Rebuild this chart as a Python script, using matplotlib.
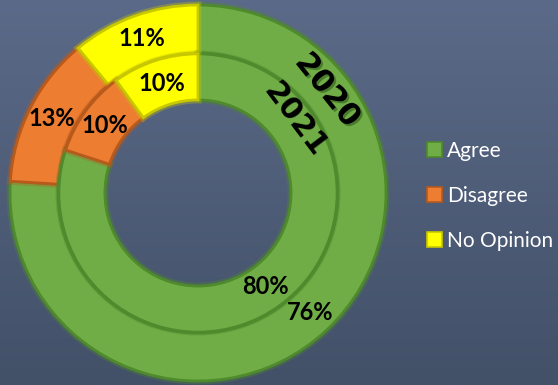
import numpy as np
import matplotlib
matplotlib.use("Agg")
import matplotlib.pyplot as plt
import matplotlib.patheffects as pe

categories = ["Agree", "Disagree", "No Opinion"]
values_2020 = [76, 13, 11]
values_2021 = [80, 10, 10]
ring_labels = ["2020", "2021"]
colors = ["#70ad47", "#ed7d31", "#ffff00"]
edge_colors = ["#4f8a2c", "#b85a1c", "#c8c800"]

W, H = 558, 385
fig = plt.figure(figsize=(W / 100, H / 100), dpi=100)

# background gradient
bg = fig.add_axes([0, 0, 1, 1])
grad = np.linspace(0, 1, 256).reshape(-1, 1)
top = np.array([91, 106, 136]) / 255
bot = np.array([66, 80, 104]) / 255
img = top[None, None, :] * (1 - grad[..., None]) + bot[None, None, :] * grad[..., None]
bg.imshow(img, aspect="auto", extent=[0, 1, 0, 1])
bg.axis("off")

# pie axes
cx, cy, R = 198, 193, 188
half = 191
ax = fig.add_axes([(cx - half) / W, (H - cy - half) / H, 2 * half / W, 2 * half / H])

font = ["Lato", "DejaVu Sans"]

outer_w = 0.255
inner_r = 1 - outer_w - 0.005
inner_w = 0.245

w1, _, t1 = ax.pie(values_2020, radius=1.0, colors=colors, startangle=90, counterclock=False,
                   autopct="%d%%", pctdistance=0.875,
                   wedgeprops=dict(width=outer_w, linewidth=2.0),
                   textprops=dict(fontsize=17, fontweight="bold", color="black", family=font))
w2, _, t2 = ax.pie(values_2021, radius=inner_r, colors=colors, startangle=90, counterclock=False,
                   autopct="%d%%", pctdistance=0.83,
                   wedgeprops=dict(width=inner_w, linewidth=2.0),
                   textprops=dict(fontsize=17, fontweight="bold", color="black", family=font))
for wl in (w1, w2):
    for w, ec in zip(wl, edge_colors):
        w.set_edgecolor(ec)
        w.set_path_effects([pe.Stroke(linewidth=5, foreground=ec, alpha=0.35), pe.Normal()])

ax.set_xlim(-half / R, half / R)
ax.set_ylim(-half / R, half / R)
ax.set_aspect("equal")
ax.axis("off")


def polar(r, clock_deg):
    a = np.deg2rad(90 - clock_deg)
    return r * np.cos(a), r * np.sin(a)


x, y = polar(0.88, 51.5)
ax.text(x, y, ring_labels[0], rotation=-51.5, ha="center", va="center", fontsize=22,
        fontweight="bold", color="black", family=["DejaVu Sans"],
        path_effects=[pe.withSimplePatchShadow(offset=(1.5, -1.5), shadow_rgbFace="#2f5a1a", alpha=0.6)])
x, y = polar(0.645, 53)
ax.text(x, y, ring_labels[1], rotation=-53, ha="center", va="center", fontsize=22,
        fontweight="bold", color="black", family=["DejaVu Sans"])

# legend
handles = [plt.Rectangle((0, 0), 1, 1, facecolor=c, edgecolor=e, linewidth=1.2)
           for c, e in zip(colors, edge_colors)]
leg = fig.legend(handles, categories, loc="center left", bbox_to_anchor=(427 / W, 1 - 196 / H),
                 frameon=False, labelcolor="white", handlelength=0.7, handleheight=0.7,
                 handletextpad=0.25, labelspacing=1.2, borderaxespad=0, borderpad=0,
                 prop=dict(family=font, size=15))

fig.savefig("out.png", dpi=100, facecolor="#4f5f7d")
